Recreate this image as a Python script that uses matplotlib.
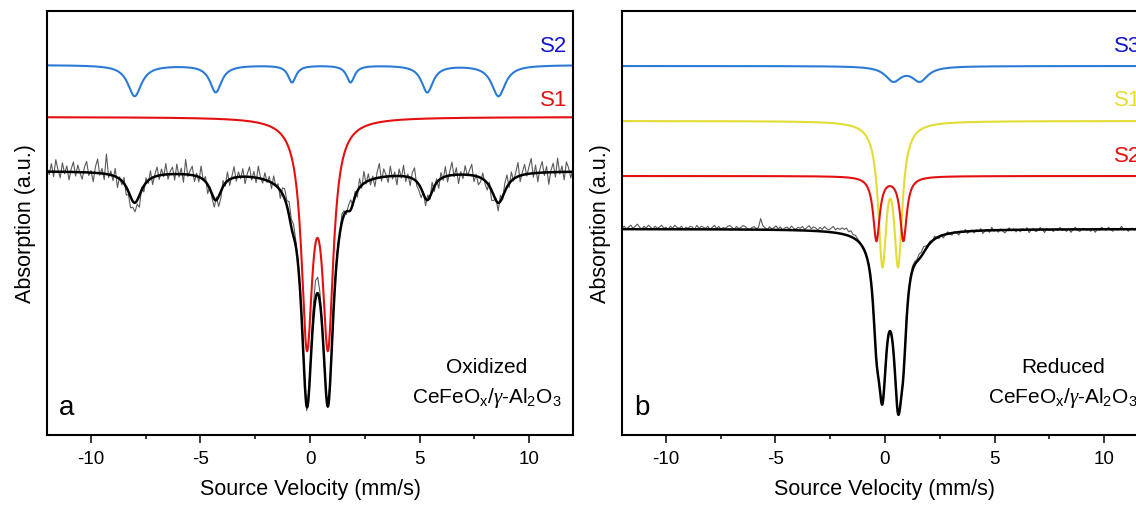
import matplotlib
matplotlib.use("Agg")
import matplotlib.pyplot as plt
from matplotlib.ticker import MultipleLocator
import numpy as np

plt.rcParams['font.family'] = ['Liberation Sans', 'DejaVu Sans']
plt.rcParams['mathtext.fontset'] = 'custom'
plt.rcParams['mathtext.rm'] = 'Liberation Sans'
plt.rcParams['mathtext.it'] = 'Liberation Serif:italic'
plt.rcParams['axes.unicode_minus'] = False

# ---- panel a (oxidized): fitted sub-spectra, values in display units (a.u.) ----
a_s2_pos = [-8.0, -4.3, -0.82, 1.85, 5.35, 8.6]
a_s2_depth = [31, 27, 17, 17, 27, 31]
a_s2_hwhm = [0.38, 0.32, 0.22, 0.22, 0.32, 0.38]
a_s1_pos = [-0.14, 0.82]
a_s1_depth = [215, 215]
a_s1_hwhm = [0.3, 0.3]

# measured spectrum = fit + residuals (one value per channel, -12..12 mm/s)
a_resid = [4, -3, 8, -5, 12, 2, -6, 9, -2, 6, -8, 3, 10, -4, 7, -1, -7, 5, 11, -3,
           2, -9, 6, 14, -2, 5, -6, 20, -3, 4, -5, 8, -10, 2, -4, 6, -8, -3, -11, -6,
           -9, -4, -12, 3, -6, 5, -3, 8, -7, 2, 9, -4, 6, -2, 11, -5, 3, 7, -6, 10,
           -3, 6, -8, 15, -2, 4, 9, -6, 3, -5, 12, -1, 5, -9, 2, -4, -8, 3, -10, -7,
           6, -3, 9, -6, 2, 11, -4, 5, -2, 8, -7, 3, 10, -3, 6, -5, 12, 1, -4, 7,
           -2, 5, -6, 8, -1, 4, -8, 6, 10, 5, 14, 8, 12, 6, 4, -2, 8, 3, -4, 2,
           6, 14, 18, 16, 10, 4, -3, 2, 5, -2, -4, 6, 3, -1, 8, 4, -3, 6, 10, -2,
           5, -6, 9, -3, 12, -2, 7, -5, 3, -8, 6, 14, -4, 8, 2, -6, 10, -3, 4, -9,
           7, -2, 11, -5, 3, -8, 6, 12, -4, -6, -9, 2, -7, 5, -3, 9, -5, 4, -8, 6,
           -3, 10, -6, 4, 13, -2, 7, -9, 3, -4, 9, -1, 5, 11, -6, 2, -8, -4, 6, -3,
           -7, 4, -10, -5, 2, -8, 6, -3, 8, 12, -4, 9, -2, 5, 14, -6, 3, 10, -2, 7,
           15, -4, 8, -9, 4, 11, -3, 6, -12, 2, 9, -5, 14, -2, 6, -8, 10, 4, -6, 3]

# ---- panel b (reduced) ----
b_s3_pos = [0.38, 1.59]
b_s3_depth = [14.3, 14.3]
b_s3_hwhm = [0.44, 0.44]
b_s1_pos = [-0.12, 0.60]
b_s1_depth = [134, 134]
b_s1_hwhm = [0.23, 0.23]
b_s2_pos = [-0.39, 0.84]
b_s2_depth = [64, 64]
b_s2_hwhm = [0.18, 0.18]

b_resid = [1, 3, 0, 2, 4, 1, 3, 5, 2, 0, 3, 1, 4, 2, 0, 3, 1, 2, 4, 1,
           2, 0, 3, 1, 4, 2, 1, 3, 0, 2, 1, 3, 2, 0, 4, 1, 3, 2, 1, 3,
           0, 2, 4, 1, 3, 0, 2, 1, 3, 4, 2, 0, 3, 1, 2, 4, 3, 1, 0, 2,
           3, 1, 2, 11, 4, 2, 0, 3, 1, 2, 4, 1, 3, 0, 2, 3, 1, 4, 2, 1,
           3, 2, 4, 1, 3, 5, 2, 4, 3, 1, 4, 2, 5, 3, 2, 4, 6, 3, 5, 4,
           6, 5, 7, 4, 6, 3, 4, 2, 1, 0, -1, 0, 1, 0, -1, 0, 1, 0, -1, 0,
           0, 1, -1, 0, 1, 0, -1, 0, 1, 0, 2, 3, 4, 3, 2, 5, 4, 6, 3, 1,
           2, -1, 3, 0, -2, 1, -3, 0, 2, -1, -2, 1, 0, -3, 1, -1, 2, -2, 0, 1,
           -2, 1, -1, 2, -3, 0, 1, -2, 3, -1, 0, -2, 1, -1, -3, 0, 2, -1, 1, -2,
           0, -2, 1, -1, 2, -3, 0, 1, -2, -1, 2, 0, -3, 1, -1, 0, -2, 1, -1, 2,
           -1, 0, -2, 1, -3, 0, 2, -1, -2, 0, 1, -1, 0, -2, 1, -3, 0, -1, 2, 0,
           -1, 2, 0, -2, 1, -1, 0, 3, -1, 1, -2, 0, 1, -1, 2, 0, -2, 1, 0, -1]

# vertical stacking offsets of the curves
a_offsets = {"S2": 370, "S1": 318, "fit": 264}
b_offsets = {"S3": 369, "S1": 314, "S2": 259, "fit": 206}

BLUE = '#2b7bd6'
BLUE_TXT = '#1515d0'
RED = '#e41010'
YELLOW = '#e2dc34'
GREY = '#5a5a5a'


def lorentz(x, pos, depth, hwhm):
    y = np.zeros_like(x)
    for p, d, w in zip(pos, depth, hwhm):
        y += d / (1 + ((x - p) / w) ** 2)
    return y


x = np.linspace(-12, 12, 1200)
xa = np.linspace(-12, 12, len(a_resid))
xb = np.linspace(-12, 12, len(b_resid))

fig = plt.figure(figsize=(11.36, 5.06), dpi=100)
W, H = 1136, 506
ax_a = fig.add_axes([47 / W, 70 / H, 526 / W, 424 / H])
ax_b = fig.add_axes([622 / W, 70 / H, 526 / W, 424 / H])


def style(ax):
    ax.set_xlim(-12, 12)
    ax.set_ylim(0, 424)
    ax.set_yticks([])
    ax.xaxis.set_major_locator(MultipleLocator(5))
    ax.xaxis.set_minor_locator(MultipleLocator(2.5))
    ax.tick_params(axis='x', which='major', direction='out', length=5.5, width=1.1,
                   labelsize=13.5, pad=5)
    ax.tick_params(axis='x', which='minor', direction='out', length=3, width=1.1)
    ax.tick_params(axis='x', top=False, which='both')
    for s in ax.spines.values():
        s.set_linewidth(1.5)
    ax.set_xlabel('Source Velocity (mm/s)', fontsize=15.5, labelpad=8)
    ax.set_ylabel('Absorption (a.u.)', fontsize=15.5, labelpad=8)


sample_txt = r'CeFeO$_\mathregular{x}$/$\mathit{\gamma}$-Al$_\mathregular{2}$O$_\mathregular{3}$'

# panel a
a_s2 = lorentz(x, a_s2_pos, a_s2_depth, a_s2_hwhm)
a_s1 = lorentz(x, a_s1_pos, a_s1_depth, a_s1_hwhm)
a_fit = a_s1 + a_s2
a_meas = a_offsets["fit"] - lorentz(xa, a_s1_pos, a_s1_depth, a_s1_hwhm) \
    - lorentz(xa, a_s2_pos, a_s2_depth, a_s2_hwhm) + np.array(a_resid)

ax_a.plot(x, a_offsets["S2"] - a_s2, color=BLUE, lw=1.5)
ax_a.plot(x, a_offsets["S1"] - a_s1, color=RED, lw=1.5)
ax_a.plot(xa, a_meas, color=GREY, lw=0.8)
ax_a.plot(x, a_offsets["fit"] - a_fit, color='black', lw=1.8)
ax_a.text(11.75, 390, 'S2', color=BLUE_TXT, fontsize=16, ha='right', va='center')
ax_a.text(11.75, 336, 'S1', color=RED, fontsize=16, ha='right', va='center')
ax_a.text(8.05, 68, 'Oxidized', fontsize=15, ha='center', va='center')
ax_a.text(8.05, 38, sample_txt, fontsize=15, ha='center', va='center')
ax_a.text(-11.45, 28, 'a', fontsize=20, ha='left', va='center')
style(ax_a)

# panel b
b_s3 = lorentz(x, b_s3_pos, b_s3_depth, b_s3_hwhm)
b_s1 = lorentz(x, b_s1_pos, b_s1_depth, b_s1_hwhm)
b_s2 = lorentz(x, b_s2_pos, b_s2_depth, b_s2_hwhm)
b_fit = b_s1 + b_s2 + b_s3
b_meas = b_offsets["fit"] - (lorentz(xb, b_s1_pos, b_s1_depth, b_s1_hwhm)
                             + lorentz(xb, b_s2_pos, b_s2_depth, b_s2_hwhm)
                             + lorentz(xb, b_s3_pos, b_s3_depth, b_s3_hwhm)) + np.array(b_resid)

ax_b.plot(x, b_offsets["S3"] - b_s3, color=BLUE, lw=1.5)
ax_b.plot(x, b_offsets["S1"] - b_s1, color=YELLOW, lw=1.5)
ax_b.plot(x, b_offsets["S2"] - b_s2, color=RED, lw=1.5)
ax_b.plot(xb, b_meas, color=GREY, lw=0.8)
ax_b.plot(x, b_offsets["fit"] - b_fit, color='black', lw=1.8)
# the right panel runs past the figure edge, as in the source figure
ax_b.text(10.45, 390, 'S3', color=BLUE_TXT, fontsize=16, ha='left', va='center')
ax_b.text(10.45, 335, 'S1', color=YELLOW, fontsize=16, ha='left', va='center')
ax_b.text(10.45, 279, 'S2', color=RED, fontsize=16, ha='left', va='center')
ax_b.text(8.13, 68, 'Reduced', fontsize=15, ha='center', va='center')
ax_b.text(8.13, 38, sample_txt, fontsize=15, ha='center', va='center')
ax_b.text(-11.45, 28, 'b', fontsize=20, ha='left', va='center')
style(ax_b)

fig.savefig('out.png', dpi=100)
